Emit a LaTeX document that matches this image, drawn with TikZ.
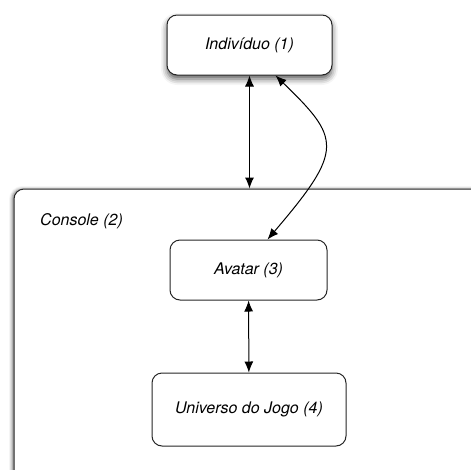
\documentclass[tikz,border=0pt]{standalone}
\usepackage{fontspec}
\setmainfont{TeX Gyre Heros}
\usetikzlibrary{arrows.meta,shadows.blur}

\tikzset{
  caixa/.style={draw=black!85, line width=1pt, rounded corners=10pt, fill=white,
    align=center, font=\fontsize{16}{19}\selectfont\itshape},
  seta/.style={{Latex[length=11pt,width=9pt]}-{Latex[length=11pt,width=9pt]}, line width=1pt},
}

\begin{document}
\begin{tikzpicture}[x=1pt, y=-1pt]
  \useasboundingbox (0,0) rectangle (471,469);

  % console
  \node [caixa, minimum width=506pt, minimum height=331pt,
         blur shadow={shadow xshift=-2pt, shadow yshift=0pt, shadow blur radius=3pt, shadow opacity=50}] (console) at (267,354.5) {};
  \node [anchor=west, inner sep=0pt, font=\fontsize{16}{19}\selectfont\itshape] (consolelabel) at (40,221) {Console (2)};

  % caixas
  \node [caixa, minimum width=165pt, minimum height=60pt,
         blur shadow={shadow xshift=0pt, shadow yshift=-4pt, shadow blur radius=6pt, shadow opacity=65}] (individuo) at (249.5,45) {Indivíduo (1)};
  \node [caixa, minimum width=157pt, minimum height=60pt] (avatar) at (248.5,270) {Avatar (3)};
  \node [caixa, minimum width=194pt, minimum height=73pt] (universo) at (249,409.5) {Universo do Jogo (4)};

  % setas
  \draw [seta] (individuo.south) -- (individuo.south |- console.north);
  \draw [seta] ([xshift=26pt]individuo.south) .. controls +(65,63) and +(77,-90) .. ([xshift=19pt]avatar.north);
  \draw [seta] (avatar) -- (universo);
\end{tikzpicture}
\end{document}
